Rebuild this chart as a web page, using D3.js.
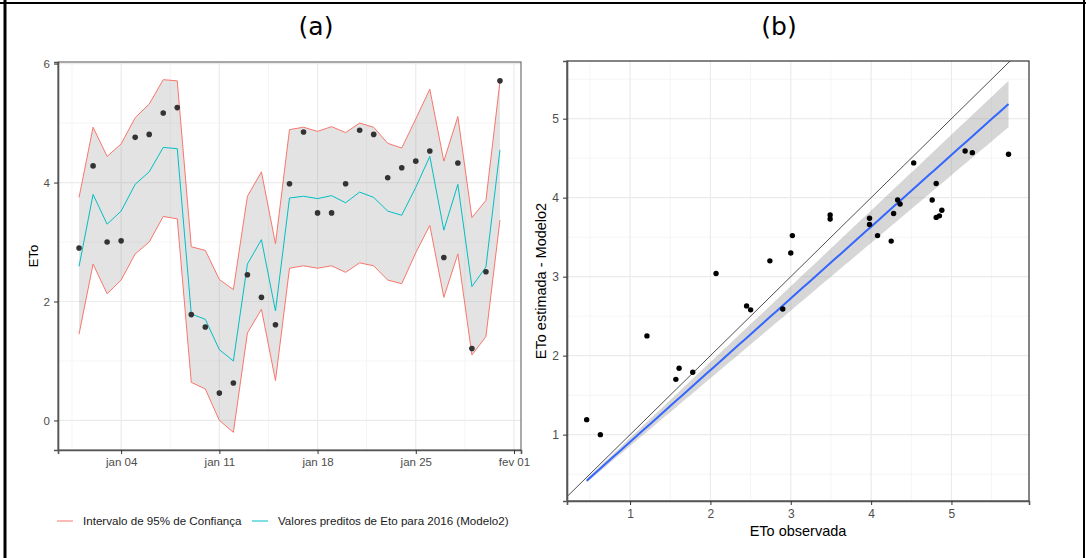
<!DOCTYPE html>
<html>
<head>
<meta charset="utf-8">
<script src="https://cdn.jsdelivr.net/npm/d3@7"></script>
<style>
  body { margin: 0; background: #fff; }
  svg { display: block; font-family: 'Liberation Sans', Arial, sans-serif; }
</style>
</head>
<body>
<svg id="chart" width="1086" height="558"></svg>
<script>
// daily values, jan 2016
var days = [
  '2016-01-01', '2016-01-02', '2016-01-03', '2016-01-04', '2016-01-05', '2016-01-06',
  '2016-01-07', '2016-01-08', '2016-01-09', '2016-01-10', '2016-01-11', '2016-01-12',
  '2016-01-13', '2016-01-14', '2016-01-15', '2016-01-16', '2016-01-17', '2016-01-18',
  '2016-01-19', '2016-01-20', '2016-01-21', '2016-01-22', '2016-01-23', '2016-01-24',
  '2016-01-25', '2016-01-26', '2016-01-27', '2016-01-28', '2016-01-29', '2016-01-30',
  '2016-01-31'
];
var observed = [2.90, 4.28, 3.00, 3.02, 4.76, 4.81, 5.17, 5.26, 1.78, 1.57, 0.46, 0.63,
  2.45, 2.07, 1.61, 3.98, 4.85, 3.49, 3.49, 3.98, 4.88, 4.81, 4.08, 4.25, 4.36, 4.53,
  2.74, 4.33, 1.21, 2.50, 5.71];
var predicted = [2.59, 3.80, 3.30, 3.52, 3.97, 4.18, 4.59, 4.57, 1.79, 1.70, 1.19, 1.00,
  2.63, 3.04, 1.84, 3.74, 3.77, 3.73, 3.78, 3.66, 3.84, 3.75, 3.52, 3.45, 3.92, 4.44,
  3.20, 3.97, 2.25, 2.58, 4.55];
var upperCI = [3.75, 4.93, 4.44, 4.65, 5.09, 5.32, 5.73, 5.71, 2.92, 2.86, 2.37, 2.20,
  3.77, 4.18, 2.97, 4.89, 4.93, 4.86, 4.94, 4.84, 5.00, 4.93, 4.66, 4.58, 5.07, 5.57,
  4.36, 5.11, 3.41, 3.70, 5.70];
var lowerCI = [1.45, 2.63, 2.13, 2.36, 2.80, 3.00, 3.43, 3.39, 0.64, 0.53, 0.00, -0.20,
  1.47, 1.87, 0.67, 2.56, 2.60, 2.56, 2.60, 2.49, 2.65, 2.60, 2.36, 2.30, 2.82, 3.28,
  2.07, 2.80, 1.10, 1.41, 3.37];

var dateTicks = ['2016-01-04', '2016-01-11', '2016-01-18', '2016-01-25', '2016-02-01'];
var dateTickLabels = ['jan 04', 'jan 11', 'jan 18', 'jan 25', 'fev 01'];
var etoTicksA = [0, 2, 4, 6];
var etoTicksB = [1, 2, 3, 4, 5];
var legendLabels = ['Intervalo de 95% de Confiança', 'Valores preditos de Eto para 2016 (Modelo2)'];
var tCrit = 2.042; // t(0.975, 30)

var red = '#F8766D',
  cyan = '#00BFC4',
  gridMajor = '#ebebeb',
  gridMinor = '#f5f5f5',
  tickText = '#4d4d4d';

var svg = d3.select('#chart');
var parseDay = d3.timeParse('%Y-%m-%d');
var dates = days.map(parseDay);
var tickDates = dateTicks.map(parseDay);
var intFormat = d3.format('d');

// ---------- panel (a) ----------
var pa = { left: 58, right: 521, top: 62, bottom: 450 };

var xA = d3
  .scaleTime()
  .domain([new Date(2015, 11, 30, 12), new Date(2016, 1, 1, 12)])
  .range([pa.left, pa.right]);
var yA = d3.scaleLinear().domain([-0.497, 6.027]).range([pa.bottom, pa.top]);

var gA = svg.append('g');

// minor grid
var minorDatesA = tickDates.map(function (d) {
  return d3.timeHour.offset(d, -84);
});
gA.selectAll('.vminor')
  .data(minorDatesA)
  .enter()
  .append('line')
  .attr('x1', function (d) { return xA(d); })
  .attr('x2', function (d) { return xA(d); })
  .attr('y1', pa.top)
  .attr('y2', pa.bottom)
  .attr('stroke', gridMinor)
  .attr('stroke-width', 1);
gA.selectAll('.hminor')
  .data([1, 3, 5])
  .enter()
  .append('line')
  .attr('x1', pa.left)
  .attr('x2', pa.right)
  .attr('y1', function (d) { return yA(d); })
  .attr('y2', function (d) { return yA(d); })
  .attr('stroke', gridMinor)
  .attr('stroke-width', 1);
// major grid
gA.selectAll('.vmajor')
  .data(tickDates)
  .enter()
  .append('line')
  .attr('x1', function (d) { return xA(d); })
  .attr('x2', function (d) { return xA(d); })
  .attr('y1', pa.top)
  .attr('y2', pa.bottom)
  .attr('stroke', gridMajor)
  .attr('stroke-width', 1.2);
gA.selectAll('.hmajor')
  .data(etoTicksA)
  .enter()
  .append('line')
  .attr('x1', pa.left)
  .attr('x2', pa.right)
  .attr('y1', function (d) { return yA(d); })
  .attr('y2', function (d) { return yA(d); })
  .attr('stroke', gridMajor)
  .attr('stroke-width', 1.2);

// ribbon
var ribbon = d3
  .area()
  .x(function (d, i) { return xA(dates[i]); })
  .y0(function (d, i) { return yA(lowerCI[i]); })
  .y1(function (d, i) { return yA(upperCI[i]); });
gA.append('path')
  .datum(days)
  .attr('d', ribbon)
  .attr('fill', '#999')
  .attr('fill-opacity', 0.27);

function seriesLine(values) {
  return d3
    .line()
    .x(function (d, i) { return xA(dates[i]); })
    .y(function (d) { return yA(d); })(values);
}
[upperCI, lowerCI].forEach(function (vals) {
  gA.append('path')
    .attr('d', seriesLine(vals))
    .attr('fill', 'none')
    .attr('stroke', red)
    .attr('stroke-width', 1);
});
gA.append('path')
  .attr('d', seriesLine(predicted))
  .attr('fill', 'none')
  .attr('stroke', cyan)
  .attr('stroke-width', 1);

gA.selectAll('.obs')
  .data(observed)
  .enter()
  .append('circle')
  .attr('cx', function (d, i) { return xA(dates[i]); })
  .attr('cy', function (d) { return yA(d); })
  .attr('r', 2.8)
  .attr('fill', '#333');

// border + axes
gA.append('rect')
  .attr('x', pa.left)
  .attr('y', pa.top)
  .attr('width', pa.right - pa.left)
  .attr('height', pa.bottom - pa.top)
  .attr('fill', 'none')
  .attr('stroke', '#555')
  .attr('stroke-width', 1);

var xAxisA = d3
  .axisBottom(xA)
  .tickValues(tickDates)
  .tickFormat(function (d, i) { return dateTickLabels[i]; })
  .tickSize(4)
  .tickPadding(4);
var yAxisA = d3.axisLeft(yA)
  .tickValues(etoTicksA)
  .tickFormat(intFormat)
  .tickSize(4)
  .tickPadding(4);

gA.append('g')
  .attr('transform', 'translate(0,' + pa.bottom + ')')
  .call(xAxisA)
  .call(styleAxis, '11.5px');
gA.append('g')
  .attr('transform', 'translate(' + pa.left + ',0)')
  .call(yAxisA)
  .call(styleAxis, '11.5px');

gA.append('text')
  .attr('transform', 'translate(38,' + (pa.top + pa.bottom) / 2 + ') rotate(-90)')
  .attr('text-anchor', 'middle')
  .style('font-size', '13px')
  .attr('fill', '#000')
  .text('ETo');

// legend
var legendItems = [
  { color: red, label: legendLabels[0], x: 57 },
  { color: cyan, label: legendLabels[1], x: 252 }
];
var legend = gA.selectAll('.legend')
  .data(legendItems)
  .enter()
  .append('g')
  .attr('transform', function (d) { return 'translate(' + d.x + ',521)'; });
legend.append('line')
  .attr('x1', 0)
  .attr('x2', 16)
  .attr('stroke', function (d) { return d.color; })
  .attr('stroke-width', 1);
legend.append('text')
  .attr('x', 26)
  .attr('dy', '0.35em')
  .style('font-size', '11.6px')
  .attr('fill', '#1a1a1a')
  .text(function (d) { return d.label; });

function styleAxis(g, size) {
  g.select('.domain')
    .attr('stroke', '#555')
    .attr('stroke-width', 1.6);
  g.selectAll('.tick line').attr('stroke', '#333');
  g.selectAll('.tick text')
    .attr('fill', tickText)
    .style('font-size', size)
    .style('font-family', "'Liberation Sans', Arial, sans-serif");
}

// panel (b) image covers the tail of the legend
svg.append('rect')
  .attr('x', 512)
  .attr('y', 505)
  .attr('width', 30)
  .attr('height', 32)
  .attr('fill', '#fff');

// ---------- panel (b) ----------
var pb = { left: 567, right: 1029, top: 61, bottom: 501 };

var xB = d3.scaleLinear().domain([0.215, 5.965]).range([pb.left, pb.right]);
var yB = d3.scaleLinear().domain([0.16, 5.73]).range([pb.bottom, pb.top]);

var gB = svg.append('g');

svg.append('clipPath')
  .attr('id', 'clipB')
  .append('rect')
  .attr('x', pb.left)
  .attr('y', pb.top)
  .attr('width', pb.right - pb.left)
  .attr('height', pb.bottom - pb.top);

var minorB = [0.5, 1.5, 2.5, 3.5, 4.5, 5.5];
gB.selectAll('.vminorB')
  .data(minorB)
  .enter()
  .append('line')
  .attr('x1', function (d) { return xB(d); })
  .attr('x2', function (d) { return xB(d); })
  .attr('y1', pb.top)
  .attr('y2', pb.bottom)
  .attr('stroke', gridMinor)
  .attr('stroke-width', 1);
gB.selectAll('.hminorB')
  .data(minorB)
  .enter()
  .append('line')
  .attr('x1', pb.left)
  .attr('x2', pb.right)
  .attr('y1', function (d) { return yB(d); })
  .attr('y2', function (d) { return yB(d); })
  .attr('stroke', gridMinor)
  .attr('stroke-width', 1);
gB.selectAll('.vmajorB')
  .data(etoTicksB)
  .enter()
  .append('line')
  .attr('x1', function (d) { return xB(d); })
  .attr('x2', function (d) { return xB(d); })
  .attr('y1', pb.top)
  .attr('y2', pb.bottom)
  .attr('stroke', gridMajor)
  .attr('stroke-width', 1.2);
gB.selectAll('.hmajorB')
  .data(etoTicksB)
  .enter()
  .append('line')
  .attr('x1', pb.left)
  .attr('x2', pb.right)
  .attr('y1', function (d) { return yB(d); })
  .attr('y2', function (d) { return yB(d); })
  .attr('stroke', gridMajor)
  .attr('stroke-width', 1.2);

// linear fit through the origin (predicted ~ 0 + observed)
var n = observed.length;
var sxx = d3.sum(observed, function (x) { return x * x; });
var sxy = d3.sum(observed, function (x, i) { return x * predicted[i]; });
var slope = sxy / sxx;
var sse = d3.sum(observed, function (x, i) {
  var r = predicted[i] - slope * x;
  return r * r;
});
var seSlope = Math.sqrt(sse / (n - 1)) / Math.sqrt(sxx);
var xMin = d3.min(observed),
  xMax = d3.max(observed);
var fitX = d3.range(0, 81).map(function (k) {
  return xMin + (xMax - xMin) * k / 80;
});

gB.append('path')
  .datum(fitX)
  .attr('d', d3.area()
    .x(function (d) { return xB(d); })
    .y0(function (d) { return yB(slope * d - tCrit * seSlope * d); })
    .y1(function (d) { return yB(slope * d + tCrit * seSlope * d); }))
  .attr('fill', '#999')
  .attr('fill-opacity', 0.4);

// 1:1 line
gB.append('line')
  .attr('clip-path', 'url(#clipB)')
  .attr('x1', xB(0))
  .attr('y1', yB(0))
  .attr('x2', xB(6))
  .attr('y2', yB(6))
  .attr('stroke', '#222')
  .attr('stroke-width', 0.8);

gB.append('path')
  .datum(fitX)
  .attr('d', d3.line()
    .x(function (d) { return xB(d); })
    .y(function (d) { return yB(slope * d); }))
  .attr('fill', 'none')
  .attr('stroke', '#3366FF')
  .attr('stroke-width', 2);

gB.selectAll('.pt')
  .data(observed)
  .enter()
  .append('circle')
  .attr('cx', function (d) { return xB(d); })
  .attr('cy', function (d, i) { return yB(predicted[i]); })
  .attr('r', 2.7)
  .attr('fill', '#000');

gB.append('rect')
  .attr('x', pb.left)
  .attr('y', pb.top)
  .attr('width', pb.right - pb.left)
  .attr('height', pb.bottom - pb.top)
  .attr('fill', 'none')
  .attr('stroke', '#333')
  .attr('stroke-width', 1.2);

gB.append('g')
  .attr('transform', 'translate(0,' + pb.bottom + ')')
  .call(d3.axisBottom(xB).tickValues(etoTicksB).tickFormat(intFormat).tickSize(4).tickPadding(4))
  .call(styleAxis, '12px');
gB.append('g')
  .attr('transform', 'translate(' + pb.left + ',0)')
  .call(d3.axisLeft(yB).tickValues(etoTicksB).tickFormat(intFormat).tickSize(4).tickPadding(4))
  .call(styleAxis, '12px');

gB.append('text')
  .attr('x', (pb.left + pb.right) / 2)
  .attr('y', 536)
  .attr('text-anchor', 'middle')
  .style('font-size', '14.5px')
  .attr('fill', '#000')
  .text('ETo observada');
gB.append('text')
  .attr('transform', 'translate(546,' + (pb.top + pb.bottom) / 2 + ') rotate(-90)')
  .attr('text-anchor', 'middle')
  .style('font-size', '14.5px')
  .attr('fill', '#000')
  .text('ETo estimada - Modelo2');

// ---------- titles and frame ----------
svg.selectAll('.title')
  .data([{ t: '(a)', x: 316 }, { t: '(b)', x: 779 }])
  .enter()
  .append('text')
  .attr('x', function (d) { return d.x; })
  .attr('y', 35)
  .attr('text-anchor', 'middle')
  .style('font-family', "'DejaVu Sans', Verdana, sans-serif")
  .style('font-size', '25px')
  .attr('fill', '#000')
  .text(function (d) { return d.t; });

svg.append('line')
  .attr('x1', 0).attr('x2', 1086)
  .attr('y1', 3).attr('y2', 3)
  .attr('stroke', '#000').attr('stroke-width', 2);
svg.append('line')
  .attr('x1', 5).attr('x2', 5)
  .attr('y1', 0).attr('y2', 558)
  .attr('stroke', '#000').attr('stroke-width', 3);
svg.append('line')
  .attr('x1', 1084).attr('x2', 1084)
  .attr('y1', 0).attr('y2', 558)
  .attr('stroke', '#000').attr('stroke-width', 2);
</script>
</body>
</html>
